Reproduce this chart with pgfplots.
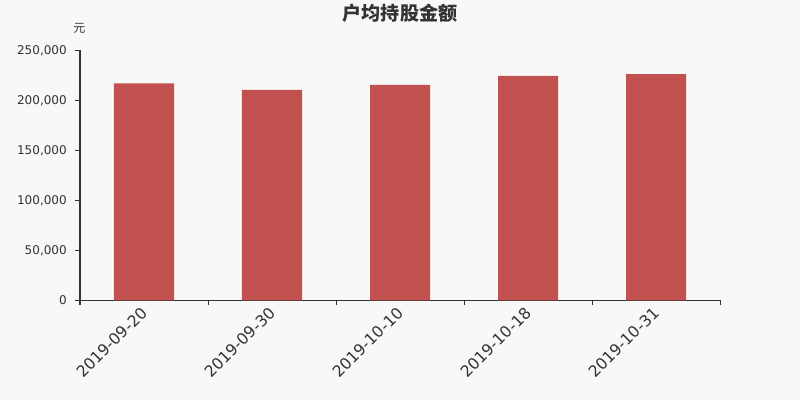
\documentclass[border=0pt]{standalone}
\usepackage{pgfplots}
\pgfplotsset{compat=1.18}
\usepackage{fontspec}
\setmainfont{DejaVu Sans}
\newfontfamily\cjk{Noto Sans CJK SC}
\definecolor{bg}{HTML}{F8F8F8}
\definecolor{barred}{HTML}{C1504E}
\definecolor{txt}{HTML}{333333}

\begin{document}
\begin{tikzpicture}
\fill[bg] (0pt,0pt) rectangle (600pt,300pt);
\node[font=\cjk\bfseries\fontsize{14.3}{16}\selectfont, text=txt] at (300pt,290pt) {户均持股金额};
\node[font=\cjk\fontsize{9}{10}\selectfont, text=txt] at (59.5pt,279pt) {元};
\begin{axis}[
    at={(60pt,75pt)}, anchor=south west,
    scale only axis, width=480pt, height=187.5pt,
    xmin=-0.5, xmax=4.5, ymin=0, ymax=250000,
    axis x line*=bottom, axis y line*=left,
    axis line style={draw=txt, line width=0.75pt, -},
    ybar, bar width=45pt, bar shift=0pt,
    % tick marks sit on the category boundaries
    xtick={-0.5,0.5,1.5,2.5,3.5,4.5},
    xticklabels={},
    extra x ticks={0,1,2,3,4},
    extra x tick labels={2019-09-20,2019-09-30,2019-10-10,2019-10-18,2019-10-31},
    extra x tick style={
        tick style={draw=none},
        xticklabel style={xshift=-3pt, yshift=0pt, rotate=45, anchor=north east, inner sep=0pt,
            font=\fontsize{11.8}{12}\selectfont, text=txt},
    },
    ytick={0,50000,100000,150000,200000,250000},
    scaled y ticks=false,
    yticklabel style={font=\fontsize{9}{10}\selectfont, text=txt, inner sep=0pt, xshift=-6pt},
    /pgf/number format/.cd, fixed, 1000 sep={,}, assume math mode=true,
    /pgfplots/.cd,
    tick style={draw=txt, line width=0.75pt},
    major tick length=3.75pt, tick align=outside,
    tick pos=left,
]
\addplot[fill=barred, draw=none] coordinates {
    (0,217000) (1,210400) (2,215400) (3,224400) (4,226200)
};
\end{axis}
\end{tikzpicture}
\end{document}
